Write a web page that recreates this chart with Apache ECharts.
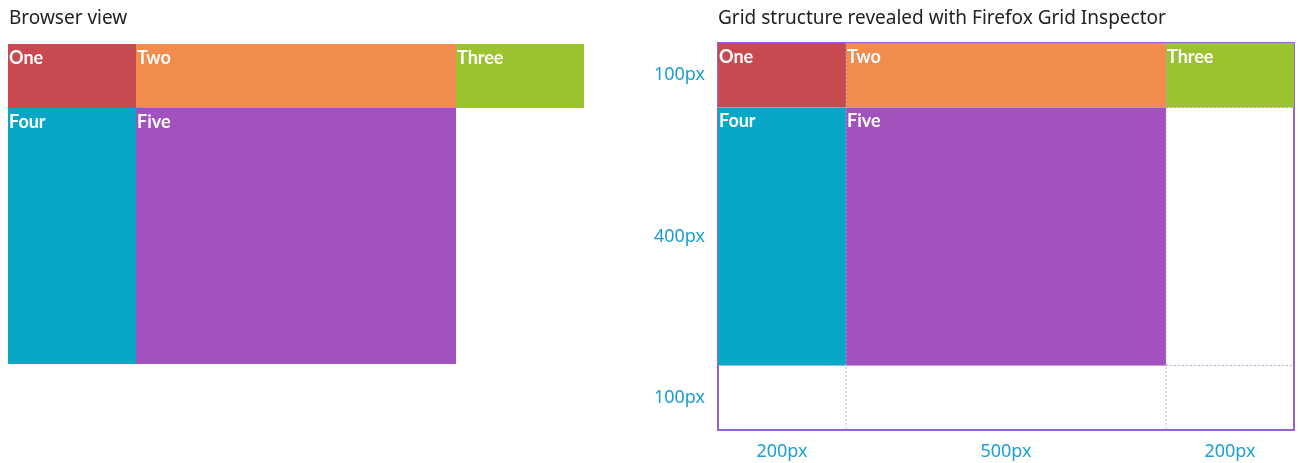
<!DOCTYPE html>
<html>
<head>
<meta charset="utf-8">
<script src="https://cdn.jsdelivr.net/npm/echarts@6/dist/echarts.min.js"></script>
<style>
  html, body { margin: 0; padding: 0; background: #fff; }
  #chart { width: 1298px; height: 463px; }
</style>
</head>
<body>
<div id="chart"></div>
<script>
// ---- data ----
const columnTracks = [200, 500, 200];       // px widths of grid columns
const rowTracks = [100, 400, 100];          // px heights of grid rows
const cellNames = ['One', 'Two', 'Three', 'Four', 'Five'];
const cellColumns = [0, 1, 2, 0, 1];
const cellRows = [0, 0, 0, 1, 1];
const cellColors = ['#c64a4f', '#f28c4c', '#9bc330', '#08a7c6', '#a152be'];
const panelTitles = ['Browser view', 'Grid structure revealed with Firefox Grid Inspector'];

// ---- derived ----
const colEdges = [0];
columnTracks.forEach(w => colEdges.push(colEdges[colEdges.length - 1] + w));
const rowEdges = [0];
rowTracks.forEach(h => rowEdges.push(rowEdges[rowEdges.length - 1] + h));
const totalW = colEdges[colEdges.length - 1];
const totalH = rowEdges[rowEdges.length - 1];

const cellData = cellNames.map((n, i) => [
  colEdges[cellColumns[i]], colEdges[cellColumns[i] + 1],
  rowEdges[cellRows[i]], rowEdges[cellRows[i] + 1], i
]);

const lineData = [];
colEdges.slice(1, -1).forEach(x => lineData.push([x, 0, x, totalH]));
rowEdges.slice(1, -1).forEach(y => lineData.push([0, y, totalW, y]));

const rowLabelData = rowTracks.map((h, i) => [(rowEdges[i] + rowEdges[i + 1]) / 2, h + 'px']);
const colLabelData = columnTracks.map((w, i) => [(colEdges[i] + colEdges[i + 1]) / 2, w + 'px']);

const labelColor = '#1a9fd2';
const labelFont = 'Noto Sans';

function cellRender(params, api) {
  const x0 = api.value(0), x1 = api.value(1), y0 = api.value(2), y1 = api.value(3);
  const idx = api.value(4);
  const p0 = api.coord([x0, y0]);
  const p1 = api.coord([x1, y1]);
  return {
    type: 'group',
    children: [
      { type: 'rect', shape: { x: p0[0], y: p0[1], width: p1[0] - p0[0], height: p1[1] - p0[1] },
        style: { fill: cellColors[idx] } },
      { type: 'text', x: p0[0] + 1, y: p0[1] + 5,
        style: { text: cellNames[idx], fill: '#fff', font: 'bold 18px Lato', textAlign: 'left', textVerticalAlign: 'top' } }
    ]
  };
}

const axesFor = (gi) => ({
  x: { type: 'value', gridIndex: gi, min: 0, max: totalW, show: false },
  y: { type: 'value', gridIndex: gi, min: 0, max: totalH, inverse: true, show: false }
});

const option = {
  animation: false,
  backgroundColor: '#fff',
  title: [
    { text: panelTitles[0], left: 9, top: 9, padding: 0, textStyle: { fontFamily: labelFont, fontSize: 19, fontWeight: 'normal', color: '#222' } },
    { text: panelTitles[1], left: 718, top: 9, padding: 0, textStyle: { fontFamily: labelFont, fontSize: 19, fontWeight: 'normal', color: '#222' } }
  ],
  grid: [
    { left: 8, top: 44, width: 576, height: 384, show: false },
    { left: 718, top: 43, width: 576, height: 387, show: true, borderColor: '#9462d2', borderWidth: 2, backgroundColor: 'transparent' }
  ],
  xAxis: [axesFor(0).x, axesFor(1).x],
  yAxis: [axesFor(0).y, axesFor(1).y],
  series: [
    { type: 'custom', xAxisIndex: 0, yAxisIndex: 0, data: cellData, renderItem: cellRender, silent: true },
    { type: 'custom', xAxisIndex: 1, yAxisIndex: 1, data: cellData, renderItem: cellRender, silent: true },
    { type: 'custom', xAxisIndex: 1, yAxisIndex: 1, data: lineData, silent: true, z: 5,
      renderItem: (params, api) => {
        const a = api.coord([api.value(0), api.value(1)]);
        const b = api.coord([api.value(2), api.value(3)]);
        return { type: 'line', shape: { x1: a[0], y1: a[1], x2: b[0], y2: b[1] },
          style: { stroke: 'rgba(180,160,215,0.85)', lineWidth: 1, lineDash: [2, 2] } };
      } },
    { type: 'custom', xAxisIndex: 1, yAxisIndex: 1, data: rowLabelData, silent: true, clip: false,
      renderItem: (params, api) => {
        const p = api.coord([0, api.value(0)]);
        return { type: 'text', x: p[0] - 13, y: p[1],
          style: { text: rowLabelData[params.dataIndex][1], fill: labelColor, font: '18px "Noto Sans"', textAlign: 'right', textVerticalAlign: 'middle' } };
      } },
    { type: 'custom', xAxisIndex: 1, yAxisIndex: 1, data: colLabelData, silent: true, clip: false,
      renderItem: (params, api) => {
        const p = api.coord([api.value(0), totalH]);
        return { type: 'text', x: p[0], y: p[1] + 22,
          style: { text: colLabelData[params.dataIndex][1], fill: labelColor, font: '18px "Noto Sans"', textAlign: 'center', textVerticalAlign: 'middle' } };
      } }
  ]
};

const chart = echarts.init(document.getElementById('chart'), null, { renderer: 'canvas' });
chart.setOption(option);
</script>
</body>
</html>
